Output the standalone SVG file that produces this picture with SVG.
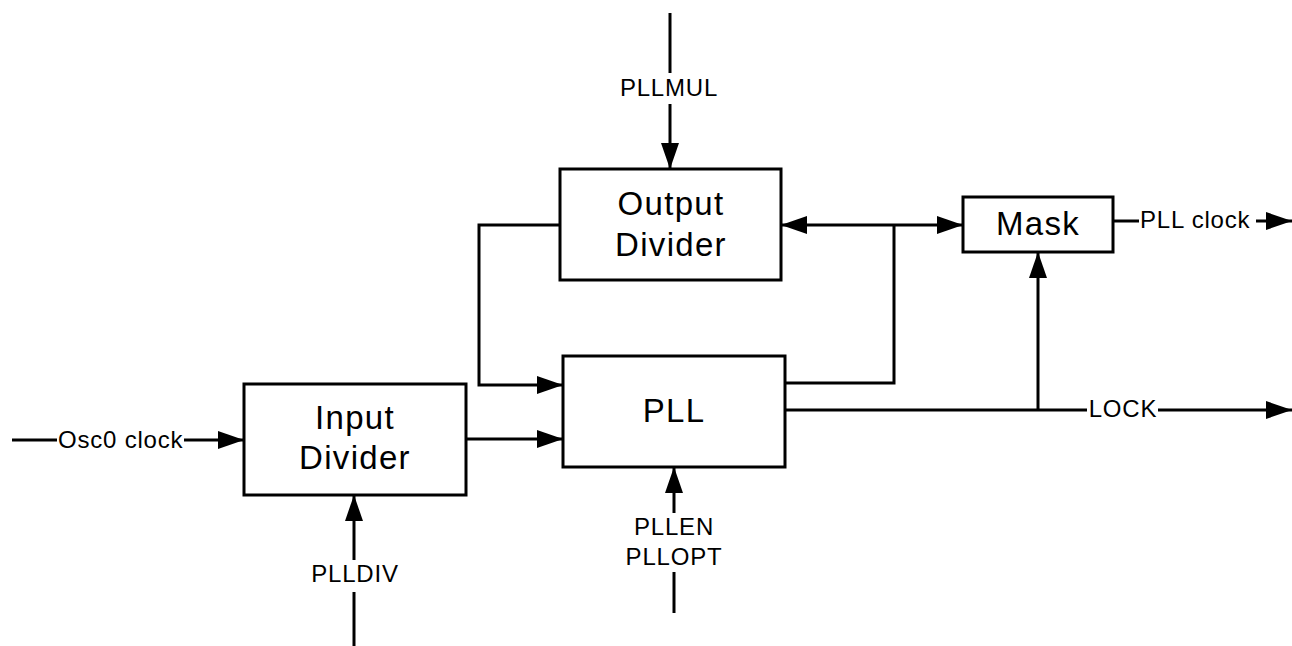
<svg xmlns="http://www.w3.org/2000/svg" width="1292" height="646" viewBox="0 0 1292 646">
<style>
.box{fill:#fff;stroke:#000;stroke-width:3}
.ln{fill:none;stroke:#000;stroke-width:3}
.arr{marker-end:url(#ah)}
.big{font-family:"Liberation Sans",Arial,sans-serif;font-size:33px;letter-spacing:1.3px;text-anchor:middle;fill:#000}
.sm{font-family:"Liberation Sans",Arial,sans-serif;font-size:24px;letter-spacing:0.8px;fill:#000}
.c{text-anchor:middle}
</style>
<defs>
<marker id="ah" markerUnits="userSpaceOnUse" markerWidth="26" markerHeight="18" refX="26" refY="9" orient="auto">
<path d="M0,0 L26,9 L0,18 Z" fill="#000"/>
</marker>
</defs>
<g id="connectors">
<path class="ln" d="M12,440 H57"/>
<path class="ln arr" d="M184,440 H244"/>
<path class="ln arr" d="M466,439 H563"/>
<path class="ln arr" d="M354,560 V495"/>
<path class="ln" d="M354,592 V646"/>
<path class="ln" d="M670,13 V73"/>
<path class="ln arr" d="M670,104 V169"/>
<path class="ln arr" d="M674,513 V467"/>
<path class="ln" d="M674,572 V613"/>
<path class="ln arr" d="M560,225 H479 V385 H563"/>
<path class="ln" d="M785,383 H894 V225"/>
<path class="ln arr" d="M894,225 H781"/>
<path class="ln arr" d="M894,225 H963"/>
<path class="ln" d="M785,410 H1087"/>
<path class="ln arr" d="M1158,410 H1292"/>
<path class="ln arr" d="M1038,410 V252"/>
<path class="ln" d="M1113,221 H1139"/>
<path class="ln arr" d="M1256,221 H1292"/>
<text class="sm" x="58" y="448">Osc0 clock</text>
<text class="sm c" x="355" y="582">PLLDIV</text>
<text class="sm c" x="669" y="96">PLLMUL</text>
<text class="sm c" x="674" y="535">PLLEN</text>
<text class="sm c" x="674" y="565">PLLOPT</text>
<text class="sm c" x="1123" y="417">LOCK</text>
<text class="sm" x="1140" y="228">PLL clock</text>
</g>
<g id="input-divider">
<rect class="box" x="244" y="384" width="222" height="111"/>
<text class="big" x="355" y="429">Input</text>
<text class="big" x="355" y="469">Divider</text>
</g>
<g id="pll">
<rect class="box" x="563" y="356" width="222" height="111"/>
<text class="big" x="674" y="422">PLL</text>
</g>
<g id="output-divider">
<rect class="box" x="560" y="169" width="221" height="111"/>
<text class="big" x="671" y="215">Output</text>
<text class="big" x="671" y="256">Divider</text>
</g>
<g id="mask">
<rect class="box" x="963" y="197" width="150" height="55"/>
<text class="big" x="1038" y="235">Mask</text>
</g>
</svg>
